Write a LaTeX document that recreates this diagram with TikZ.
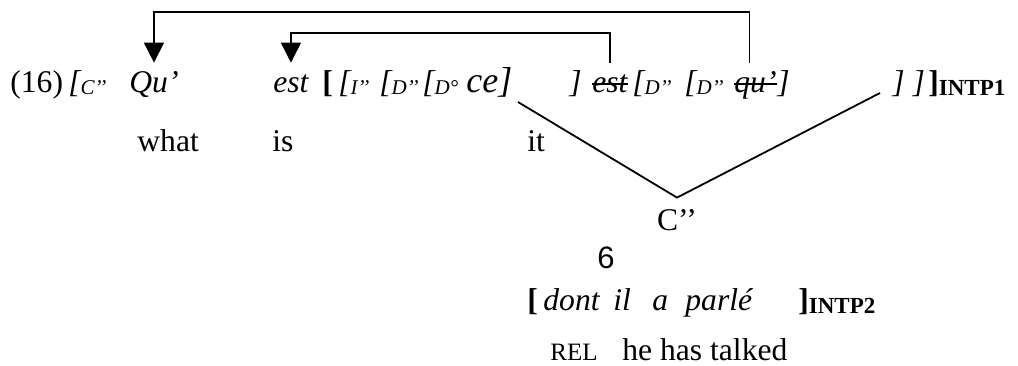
\documentclass[tikz,border=0pt]{standalone}
\usepackage{fontspec}
\setmainfont{Liberation Serif}
\setsansfont{Liberation Sans}
\usetikzlibrary{arrows.meta,positioning,calc}
\newcommand{\lab}[1]{\raisebox{-1pt}{\fontsize{10.5}{12}\selectfont #1}}
\newcommand{\intp}[1]{\raisebox{-1.5pt}{\fontsize{11.5}{13}\selectfont\bfseries #1}}
\newcommand{\struck}[1]{\setbox0\hbox{#1}\rlap{\rule[0.23em]{\wd0}{0.9pt}}\box0}
\tikzset{
  word/.style={
    anchor=base west,
    inner xsep=0pt,
    inner ysep=3.5pt,
    text height=11pt,
    text depth=4pt,
    font=\fontsize{15.8}{19}\selectfont\itshape,
  },
  gloss/.style={word, font=\fontsize{15.8}{19}\selectfont},
  move arrow/.style={-{Triangle[width=10pt,length=10pt]}, line width=0.8pt},
  tree line/.style={line width=0.9pt},
}
\begin{document}
\begin{tikzpicture}[x=0.5pt,y=-0.5pt]
  \useasboundingbox (0,0) rectangle (1018,365);
  % top line
  \node[gloss] (ex) at (10,92) {(16)};
  \node[word] (cbr) at (68,92) {[\lab{C’’}};
  \node[word] (qu) at (129,92) {Qu’};
  \node[word] (est) at (273,92) {est};
  \node[gloss] (lbr) at (322,92) {\textbf{[}};
  \node[word] (ibar) at (338,92) {[\lab{I’’}};
  \node[word] (dbar) at (379,92) {[\lab{D’’}};
  \node[word] (dzero) at (422,92) {[\lab{D°}};
  \node[word,font=\fontsize{18}{22}\selectfont\itshape] (ce) at (466,92) {ce]};
  \node[word] (ibr) at (569,92) {]};
  \node[word] (estcopy) at (592,92) {\struck{est}};
  \node[word] (dbarb) at (632,92) {[\lab{D’’}};
  \node[word] (dbarc) at (684,92) {[\lab{D’’}};
  \node[word] (qucopy) at (734,92) {\struck{qu’}};
  \node[word,right=0pt of qucopy] (qend) {]};
  \node[word] (rbr) at (892,92) {] ]};
  \node[gloss] (intp1) at (928,92) {\textbf{]}\intp{INTP1}};

  % glosses
  \node[gloss] (what) at (137,151) {what};
  \node[gloss] (is) at (272,151) {is};
  \node[gloss] (it) at (527,151) {it};

  % relative clause
  \node[gloss,anchor=base] (cbar) at (677,230) {C’’};
  \node[anchor=base,inner sep=0pt,font=\sffamily\fontsize{15.5}{18}\selectfont] (six) at (606,268) {6};
  \node[gloss] (rl) at (527,310) {\textbf{[}};
  \node[word] (dont) at (543,310) {dont};
  \node[word] (il) at (613,310) {il};
  \node[word] (a) at (652,310) {a};
  \node[word] (parle) at (685,310) {parlé};
  \node[gloss] (intp2) at (798,310) {\textbf{]}\intp{INTP2}};
  \node[gloss] (rel) at (550,360) {\fontsize{12.5}{14}\selectfont REL};
  \node[gloss] (talked) at (622,360) {he has talked};

  % movement arrows
  \coordinate (hi) at (0,12);
  \coordinate (lo) at (0,33);
  \coordinate (qutop) at ([xshift=-3pt]qucopy.north);
  \draw[move arrow] (qutop) -- (qutop |- hi) -| (qu.north);
  \draw[move arrow] (estcopy.north) -- (estcopy.north |- lo) -| (est.north);

  % triangle to C''
  \coordinate (vl) at (518,102);
  \coordinate (vr) at (880,93);
  \coordinate (apex) at ([yshift=1.5pt]cbar.north);
  \draw[tree line] (vl) -- (apex) -- (vr);
\end{tikzpicture}
\end{document}
